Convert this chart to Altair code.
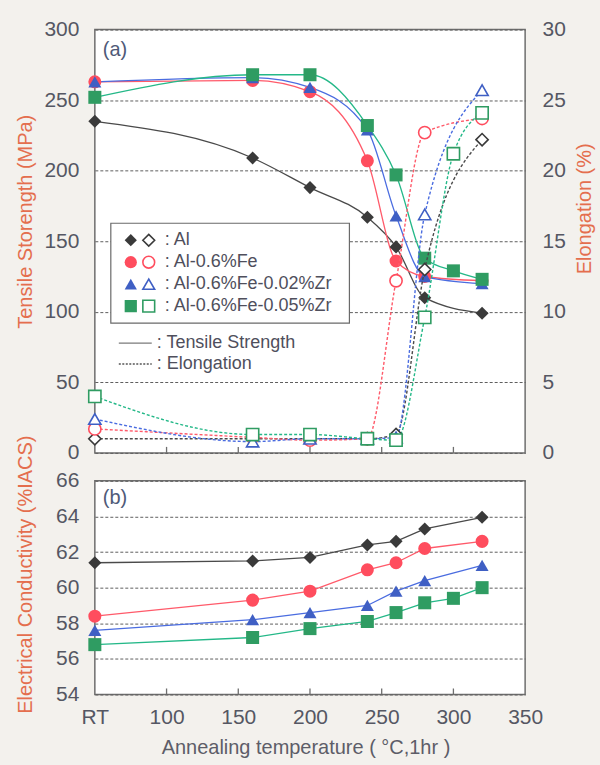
import altair as alt
import pandas as pd

# ---------------- data ----------------
series = ["Al", "Al-0.6%Fe", "Al-0.6%Fe-0.02%Zr", "Al-0.6%Fe-0.05%Zr"]
temps = [50, 160, 200, 240, 260, 280, 320]            # 50 = RT
temps_g = [50, 160, 200, 240, 260, 280, 300, 320]
series_temps = [temps, temps, temps, temps_g]

# tensile strength (MPa)
ts_al = [235, 209, 188, 167, 146, 110, 99]
ts_fe = [263, 264, 256, 207, 136, 125, 122]
ts_zr2 = [263, 266, 259, 229, 168, 125, 120]
ts_zr5 = [252, 268, 268, 232, 197, 138, 129, 123]

# elongation (%)
el_al = [1.0, 1.0, 1.0, 1.0, 1.3, 13.0, 22.2]
el_fe = [1.7, 1.1, 0.9, 1.0, 12.2, 22.7, 23.7]
el_zr2 = [2.4, 0.8, 1.0, 1.0, 1.1, 16.9, 25.7]
el_zr5 = [4.0, 1.3, 1.3, 1.0, 0.9, 9.6, 21.2, 24.1]

# electrical conductivity (%IACS)
ec_al = [61.4, 61.5, 61.7, 62.4, 62.6, 63.3, 63.95]
ec_fe = [58.4, 59.3, 59.8, 61.0, 61.4, 62.2, 62.6]
ec_zr2 = [57.6, 58.2, 58.6, 59.0, 59.8, 60.4, 61.25]
ec_zr5 = [56.8, 57.2, 57.7, 58.1, 58.6, 59.15, 59.4, 60.0]

x_ticks = [50, 100, 150, 200, 250, 300, 350]
inner_ticks = [100, 150, 200, 250, 300]
ts_ticks = [0, 50, 100, 150, 200, 250, 300]
el_ticks = [0, 5, 10, 15, 20, 25, 30]
ec_ticks = [54, 56, 58, 60, 62, 64, 66]

marker_colors = ["#3a3a3a", "#ff4d5e", "#3f5fc4", "#2f9c62"]
line_colors = ["#4a4a4a", "#ff5a6a", "#4a6ce0", "#24b888"]
shapes = ["diamond", "circle", "triangle-up", "square"]


def long(col, lists):
    rows = []
    for s, tt, vals in zip(series, series_temps, lists):
        for t, v in zip(tt, vals):
            rows.append({"series": s, "temp": t, col: v})
    return pd.DataFrame(rows)


ts_df = long("ts", [ts_al, ts_fe, ts_zr2, ts_zr5])
el_df = long("el", [el_al, el_fe, el_zr2, el_zr5])
ec_df = long("ec", [ec_al, ec_fe, ec_zr2, ec_zr5])
tick_df = pd.DataFrame({"temp": inner_ticks})

# ---------------- layout / style ----------------
W, H_TOP, H_BOT = 431, 424, 214
FONT = "Liberation Sans"
LABEL_C = "#555763"
YTITLE_C = "#e46e4e"
XTITLE_C = "#5d5d68"
TEXT_C = "#4f4f5c"

lab = dict(labelFont=FONT, labelFontSize=21, labelColor=LABEL_C, labelFlush=False)
ttl = dict(titleFont=FONT, titleFontSize=20, titleFontWeight="normal")
grid = dict(grid=True, gridColor="#5e5e5e", gridDash=[3, 2], gridWidth=1)

xs = alt.Scale(domain=[50, 350], nice=False, zero=False)
sel = dict(domain=series)
line_scale = alt.Scale(range=line_colors, **sel)
mk_scale = alt.Scale(range=marker_colors, **sel)
shape_scale = alt.Scale(range=shapes, **sel)

x_top = alt.X("temp:Q", scale=xs, axis=None)
x_axis = alt.Axis(values=x_ticks, labelExpr="datum.value == 50 ? 'RT' : datum.label",
                  ticks=False, domain=False, grid=False, labelPadding=12,
                  title="Annealing temperature ( °C,1hr )", titleX=211, titleY=59,
                  titleBaseline="alphabetic", titleColor=XTITLE_C, **lab, **ttl)
x_bot = alt.X("temp:Q", scale=xs, axis=x_axis)

ts_y = alt.Y("ts:Q", scale=alt.Scale(domain=[0, 300], nice=False, zero=False),
             axis=alt.Axis(orient="left", values=ts_ticks, ticks=False, domain=False,
                           labelPadding=16, title="Tensile Storength (MPa)",
                           titleX=-59, titleY=192, titleAngle=270, titleBaseline="bottom",
                           titleColor=YTITLE_C, **lab, **ttl, **grid))
el_y = alt.Y("el:Q", scale=alt.Scale(domain=[0, 30], nice=False, zero=False),
             axis=alt.Axis(orient="right", values=el_ticks, ticks=False, domain=False,
                           grid=False, labelPadding=17, title="Elongation (%)",
                           titleX=69, titleY=179, titleAngle=270, titleBaseline="bottom",
                           titleColor=YTITLE_C, **lab, **ttl))
ec_y = alt.Y("ec:Q", scale=alt.Scale(domain=[54, 66], nice=False, zero=False),
             axis=alt.Axis(orient="left", values=ec_ticks, ticks=False, domain=False,
                           labelPadding=16, title="Electrical Conductivity (%IACS)",
                           titleX=-59, titleY=93.5, titleAngle=270, titleBaseline="bottom",
                           titleColor=YTITLE_C, **lab, **ttl, **grid))

color_line = alt.Color("series:N", scale=line_scale, legend=None)
fill_mk = alt.Fill("series:N", scale=mk_scale, legend=None)
stroke_mk = alt.Stroke("series:N", scale=mk_scale, legend=None)
shape_mk = alt.Shape("series:N", scale=shape_scale, legend=None)


def inner_tick_layer(h, x_enc):
    return alt.Chart(tick_df).mark_rule(color="#6e6e6e", strokeWidth=1.3).encode(
        x=x_enc, y=alt.value(h), y2=alt.value(h - 6))


# ---------------- panel (a) ----------------
ts_lines = alt.Chart(ts_df).mark_line(interpolate="monotone", strokeWidth=1.3).encode(
    x=x_top, y=ts_y, color=color_line)
ts_pts = alt.Chart(ts_df).mark_point(filled=True, size=170, opacity=1, strokeWidth=0).encode(
    x=x_top, y=ts_y, fill=fill_mk, shape=shape_mk)
ts_group = alt.layer(inner_tick_layer(H_TOP, x_top), ts_lines, ts_pts)

el_lines = alt.Chart(el_df).mark_line(interpolate="monotone", strokeWidth=1.4,
                                      strokeDash=[3, 2]).encode(
    x=x_top, y=el_y, color=color_line)
el_pts = alt.Chart(el_df).mark_point(filled=False, fill="white", fillOpacity=1, size=150,
                                     strokeWidth=1.6, opacity=1).encode(
    x=x_top, y=el_y, stroke=stroke_mk, shape=shape_mk)
el_group = alt.layer(el_lines, el_pts)

# custom legend (pixel positions inside panel a)
LEG_BOX = (16, 194, 255, 294)
LEG_ROW0, LEG_DY = 211, 22
LEG_FX, LEG_OX, LEG_TX = 36, 54, 70
leg_df = pd.DataFrame({"series": series, "label": [": " + s for s in series]})
leg_df["ly"] = [LEG_ROW0 + i * LEG_DY for i in range(len(series))]
one = pd.DataFrame({"k": [0]})

leg_box = alt.Chart(one).mark_rect(fill="white", stroke="#6a6a6a", strokeWidth=1.2).encode(
    x=alt.value(LEG_BOX[0]), x2=alt.value(LEG_BOX[2]),
    y=alt.value(LEG_BOX[1]), y2=alt.value(LEG_BOX[3]))
ly = alt.Y("ly:Q", scale=None, axis=None)
leg_f = alt.Chart(leg_df).mark_point(filled=True, size=150, opacity=1, strokeWidth=0).encode(
    x=alt.value(LEG_FX), y=ly, fill=fill_mk, shape=shape_mk)
leg_o = alt.Chart(leg_df).mark_point(filled=False, fill="white", fillOpacity=1, size=140,
                                     strokeWidth=1.6, opacity=1).encode(
    x=alt.value(LEG_OX), y=ly, stroke=stroke_mk, shape=shape_mk)
leg_t = alt.Chart(leg_df).mark_text(align="left", baseline="middle", font=FONT,
                                    fontSize=18, color=TEXT_C).encode(
    x=alt.value(LEG_TX), y=ly, text="label:N")

STYLE_Y0, STYLE_DY = 314, 21
sty_solid = alt.Chart(one).mark_rule(color="#7a7a7a", strokeWidth=1.2).encode(
    x=alt.value(24), x2=alt.value(57), y=alt.value(STYLE_Y0))
sty_dash = alt.Chart(one).mark_rule(color="#555555", strokeWidth=1.4, strokeDash=[2, 1.5]).encode(
    x=alt.value(24), x2=alt.value(57), y=alt.value(STYLE_Y0 + STYLE_DY))
sty_t1 = alt.Chart(one).mark_text(align="left", baseline="middle", font=FONT, fontSize=18,
                                  color=TEXT_C).encode(
    x=alt.value(62), y=alt.value(STYLE_Y0), text=alt.value(": Tensile Strength"))
sty_t2 = alt.Chart(one).mark_text(align="left", baseline="middle", font=FONT, fontSize=18,
                                  color=TEXT_C).encode(
    x=alt.value(62), y=alt.value(STYLE_Y0 + STYLE_DY), text=alt.value(": Elongation"))
lab_a = alt.Chart(one).mark_text(align="left", baseline="middle", font=FONT, fontSize=20,
                                 color="#4f5a78").encode(
    x=alt.value(8), y=alt.value(20), text=alt.value("(a)"))

leg_group = alt.layer(leg_box, leg_f, leg_o, leg_t, sty_solid, sty_dash, sty_t1, sty_t2, lab_a)

top = alt.layer(ts_group, el_group, leg_group).resolve_scale(y="independent").properties(
    width=W, height=H_TOP)

# ---------------- panel (b) ----------------
ec_lines = alt.Chart(ec_df).mark_line(strokeWidth=1.3).encode(
    x=x_bot, y=ec_y, color=color_line)
ec_pts = alt.Chart(ec_df).mark_point(filled=True, size=170, opacity=1, strokeWidth=0).encode(
    x=x_bot, y=ec_y, fill=fill_mk, shape=shape_mk)
lab_b = alt.Chart(one).mark_text(align="left", baseline="middle", font=FONT, fontSize=20,
                                 color="#4f5a78").encode(
    x=alt.value(8), y=alt.value(17), text=alt.value("(b)"))
bottom = alt.layer(inner_tick_layer(H_BOT, x_bot), ec_lines, ec_pts, lab_b).properties(
    width=W, height=H_BOT)

chart = alt.vconcat(top, bottom, spacing=28, bounds="flush").properties(
    padding={"left": 15, "top": 17, "right": 5, "bottom": 7},
    background="#f3f1ed",
).configure(font=FONT).configure_view(stroke="#6e6e6e", strokeWidth=1.5, fill="white")

chart.save("out.html", embed_options={"renderer": "svg", "actions": False})
